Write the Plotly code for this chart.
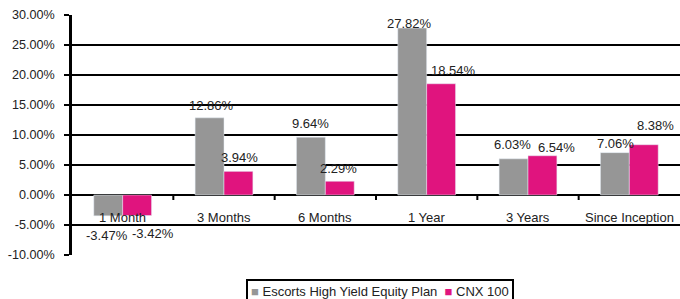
import plotly.graph_objects as go

categories = ["1 Month", "3 Months", "6 Months", "1 Year", "3 Years", "Since Inception"]
escorts = [-3.47, 12.86, 9.64, 27.82, 6.03, 7.06]
cnx = [-3.42, 3.94, 2.29, 18.54, 6.54, 8.38]
series_names = ["Escorts High Yield Equity Plan", "CNX 100"]
series_colors = ["#969696", "#E0147E"]
y_ticks = [-10, -5, 0, 5, 10, 15, 20, 25, 30]

# label pixel offsets (styling): dx right, dy up
esc_dx = [-1, 2, 0, -3, -1, 1]
esc_dy = [-20, 12, 14, 5, 14, 9]
cnx_dx = [16, 1, -1, 12, 14, 12]
cnx_dy = [-18, 14, 13, 13, 8, 19]

FONT = "Liberation Sans, Arial, sans-serif"
FS = 13
TXT = "#222"
BARGAP = 0.43
x = list(range(len(categories)))

fig = go.Figure()
for name, vals, col in zip(series_names, [escorts, cnx], series_colors):
    fig.add_trace(go.Bar(x=x, y=vals, name=name, marker_color=col, showlegend=False))

half = (1 - BARGAP) / 4
for vals, dxs, dys, sign in [(escorts, esc_dx, esc_dy, -1), (cnx, cnx_dx, cnx_dy, 1)]:
    for i, v in enumerate(vals):
        fig.add_annotation(x=i + sign * half, y=v, xref="x", yref="y", text=f"{v:.2f}%",
                           showarrow=False, xanchor="center", yanchor="middle",
                           xshift=dxs[i], yshift=dys[i],
                           font=dict(size=FS, color=TXT, family=FONT))

for i, c in enumerate(categories):
    fig.add_annotation(x=i, y=0, xref="x", yref="y", text=c, showarrow=False,
                       yanchor="middle", yshift=-22, font=dict(size=FS, color=TXT, family=FONT))

for i in range(len(categories) - 1):
    fig.add_shape(type="line", xref="x", yref="y", x0=i + 0.5, x1=i + 0.5,
                  ysizemode="pixel", yanchor=0, y0=0, y1=-5,
                  line=dict(color="black", width=2))

legend_text = "  ".join(
    f'<span style="color:{c}">■</span> {n}' for n, c in zip(series_names, series_colors)
)
fig.add_annotation(x=0.506, y=0, xref="paper", yref="paper", text=legend_text,
                   showarrow=False, xanchor="center", yanchor="top", yshift=-24,
                   bordercolor="black", borderwidth=2, borderpad=3, bgcolor="white",
                   font=dict(size=FS, color=TXT, family=FONT))

fig.update_layout(
    width=680, height=299,
    margin=dict(l=72, r=0, t=15, b=44, autoexpand=False),
    paper_bgcolor="white", plot_bgcolor="white",
    barmode="group", bargap=BARGAP, bargroupgap=0,
    font=dict(family=FONT, size=FS, color=TXT),
    showlegend=False,
)
fig.update_xaxes(range=[-0.5, len(categories) - 0.5], showticklabels=False,
                 showgrid=False, zeroline=False, showline=False, ticks="")
fig.update_yaxes(range=[-10, 30], tickvals=y_ticks, ticktext=[f"{v:.2f}%" for v in y_ticks],
                 showgrid=True, gridcolor="black", gridwidth=2,
                 zeroline=True, zerolinecolor="black", zerolinewidth=2,
                 showline=True, linecolor="black", linewidth=2.5,
                 ticks="outside", ticklen=5, tickwidth=2, tickcolor="black",
                 ticklabelstandoff=7, ticklabeloverflow="allow",
                 tickfont=dict(size=12.6, color=TXT))

# remove the default page margin so the figure sits at the window's top-left corner
fig.write_html("out.html", config={"displayModeBar": False},
               post_script="document.body.style.margin='0';")
